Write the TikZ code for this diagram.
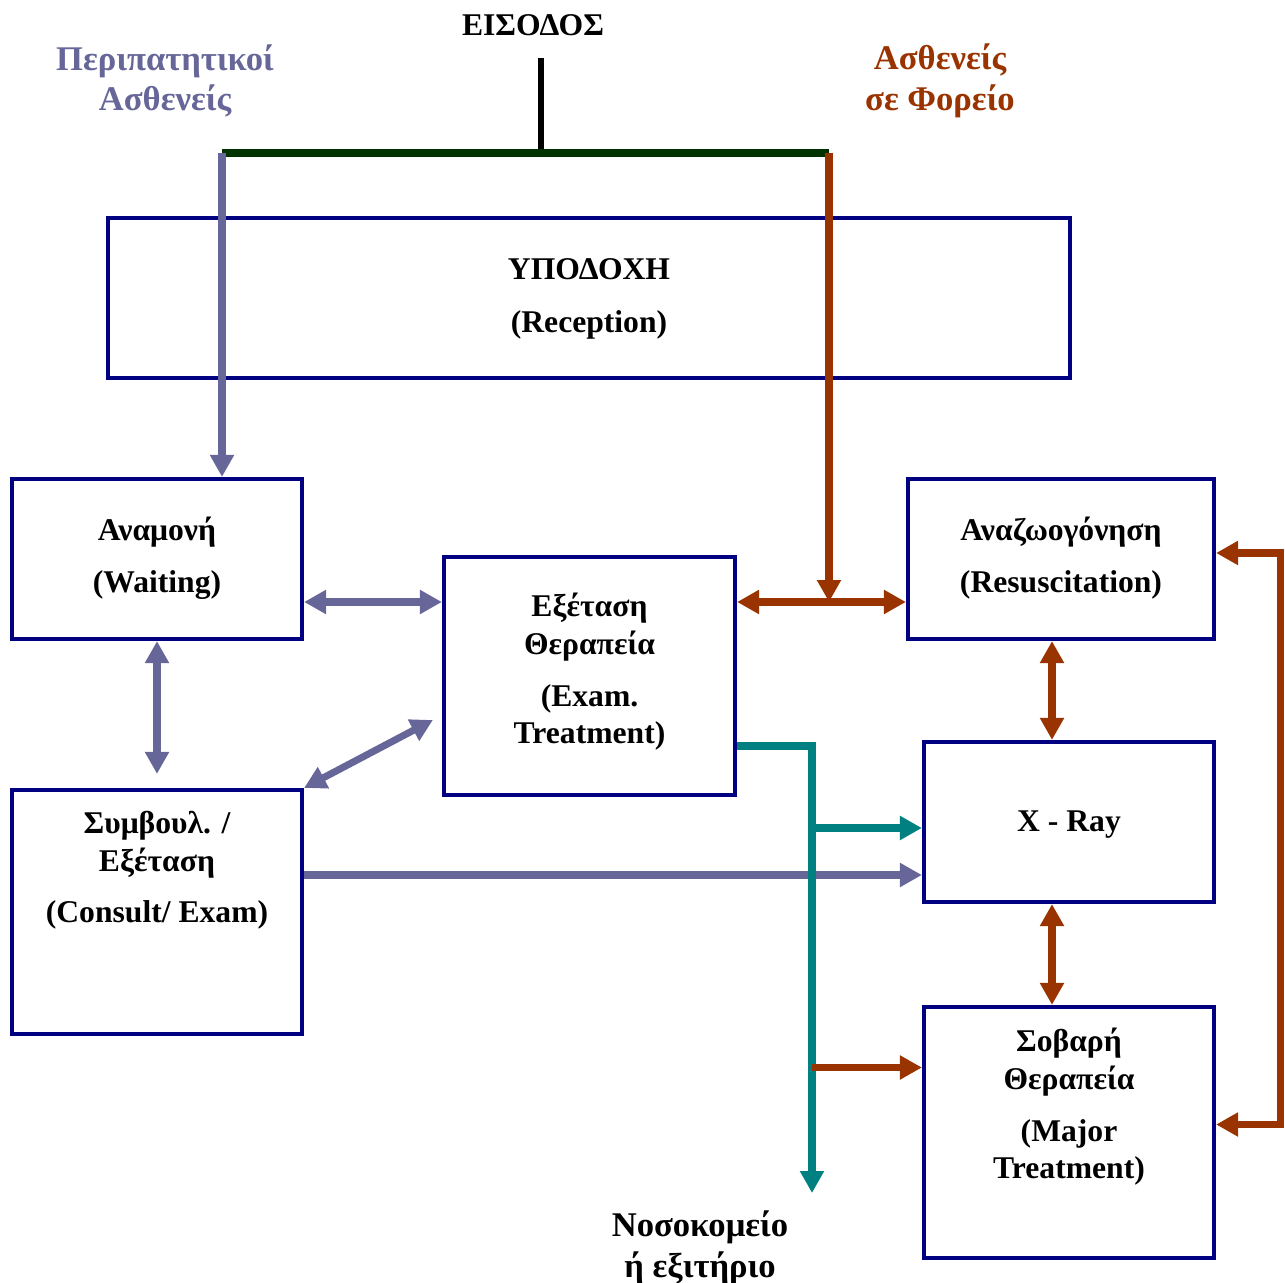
\documentclass[tikz,border=0pt]{standalone}
\usepackage{fontspec}
\setmainfont{Liberation Serif}
\usepackage{xcolor}
\usetikzlibrary{positioning, arrows.meta, calc}
\definecolor{boxnavy}{RGB}{0, 0, 128}
\definecolor{walkpurple}{RGB}{102, 102, 153}
\definecolor{stretchbrown}{RGB}{153, 51, 0}
\definecolor{exitteal}{RGB}{0, 128, 128}
\definecolor{bargreen}{RGB}{0, 51, 0}
\tikzset{
  blk/.style={draw=boxnavy, line width=2.4pt, inner sep=0pt},
  lbl/.style={font=\fontsize{18}{21.5}\selectfont\bfseries, align=center, inner sep=0pt},
  toplbl/.style={font=\fontsize{19.7}{23.2}\selectfont\bfseries, align=center, inner sep=0pt, text=#1},
  arr/.style={line width=4pt, draw=#1},
}

\begin{document}
\begin{tikzpicture}[x=0.02cm, y=-0.02cm, >={Triangle[length=12.5pt, width=13pt]}]
  \useasboundingbox (0,0) rectangle (1285,1283);

  % departments
  \node[blk, minimum width=19.24cm, minimum height=3.2cm] (recep) at (589, 298) {};
  \node[blk, minimum width=5.8cm, minimum height=3.2cm] (wait) at (157, 559) {};
  \node[blk, minimum width=5.82cm, minimum height=4.76cm] (exam) at (589.5, 676) {};
  \node[blk, minimum width=6.12cm, minimum height=3.2cm] (resus) at (1061, 559) {};
  \node[blk, minimum width=5.8cm, minimum height=3.2cm] (xray) at (1069, 822) {};
  \node[blk, minimum width=5.8cm, minimum height=4.88cm] (consult) at (157, 912) {};
  \node[blk, minimum width=5.8cm, minimum height=5.02cm] (major) at (1069, 1132.5) {};

  \node[lbl, below=24pt of recep.north] (recep-t) {ΥΠΟΔΟΧΗ\\[8.5pt](Reception)};
  \node[lbl, below=22.5pt of wait.north] (wait-t) {Αναμονή\\[8pt](Waiting)};
  \node[lbl, below=21.5pt of exam.north] (exam-t) {Εξέταση\\Θεραπεία\\[8pt](Exam.\\Treatment)};
  \node[lbl, below=22.5pt of resus.north] (resus-t) {Αναζωογόνηση\\[8pt](Resuscitation)};
  \node[lbl, below=40pt of xray.north] (xray-t) {X - Ray};
  \node[lbl, below=13pt of consult.north] (consult-t) {Συμβουλ. /\\Εξέταση\\[8pt](Consult/ Exam)};
  \node[lbl, below=13pt of major.north] (major-t) {Σοβαρή\\Θεραπεία\\[8pt](Major\\Treatment)};

  % entry and exit
  \node[lbl] (eisodos) at (533, 25) {ΕΙΣΟΔΟΣ};
  \node[toplbl=walkpurple] (walk) at (165, 81) {Περιπατητικοί\\Ασθενείς};
  \node[toplbl=stretchbrown] (stretch) at (940, 81) {Ασθενείς\\σε Φορείο};
  \node[toplbl=black] (out) at (700, 1248) {Νοσοκομείο\\ή εξιτήριο};

  \coordinate (entry) at (541, 58);
  \coordinate (split) at (541, 153);
  \coordinate (wl) at (222, 153);
  \coordinate (wr) at (829, 153);
  \coordinate (mid) at (829, 602);
  \coordinate (exit) at (812, 1193);
  \coordinate (vx) at (1052, 0);
  \coordinate (xt) at ($(xray.west)+(0,6)$);
  \coordinate (mj) at ($(major.west)+(0,-65)$);

  \draw[line width=3.4pt] (entry) -- (split);
  \draw[bargreen, line width=4pt] (wl) -- (wr);

  % walk-in patients
  \draw[arr=walkpurple, ->] (wl) -- (wait.north -| wl);
  \draw[arr=walkpurple, <->] (wait.east |- mid) -- (exam.west |- mid);
  \draw[arr=walkpurple, <->] (wait.south) -- ($(consult.north)+(0,-14)$);
  \draw[arr=walkpurple, <->] (consult.north east) -- ($(exam.west)+(-9,44)$);
  \draw[arr=walkpurple, ->] ($(consult.east)+(0,-37)$) -- ($(xray.west)+(0,53)$);

  % stretcher patients
  \draw[arr=stretchbrown, ->] (wr) -- (mid);
  \draw[arr=stretchbrown, <->] (exam.east |- mid) -- (resus.west |- mid);
  \draw[arr=stretchbrown, <->] (resus.south -| vx) -- (xray.north -| vx);
  \draw[arr=stretchbrown, <->] (xray.south -| vx) -- (major.north -| vx);
  \draw[arr=stretchbrown, <->] ($(resus.east)+(0,-6)$) -- ++(64,0) |- ($(major.east)+(0,-8)$);

  % way out
  \draw[arr=exitteal, ->] ($(exam.east)+(0,70)$) -| (exit);
  \draw[arr=exitteal, ->] (exit |- xt) -- (xt);
  \draw[arr=stretchbrown, ->] (exit |- mj) -- (mj);
\end{tikzpicture}
\end{document}
